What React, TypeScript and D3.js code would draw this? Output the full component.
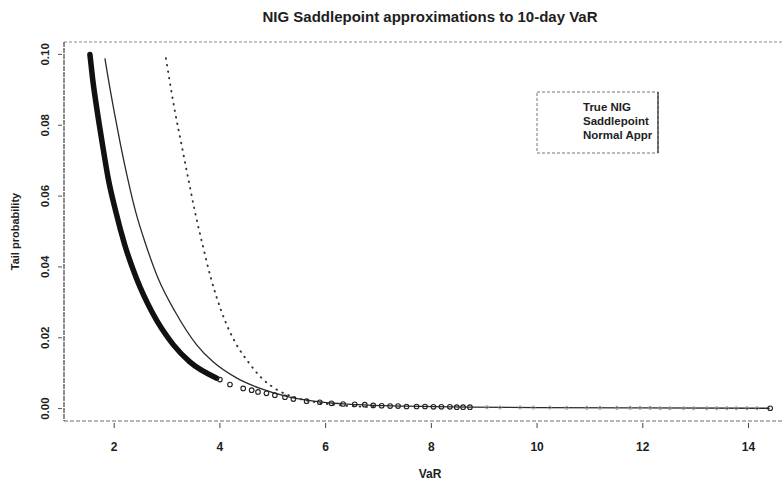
import React from "react";
import * as d3 from "d3";

const W = 784;
const H = 486;

const titleText = "NIG Saddlepoint approximations to 10-day VaR";
const xLabel = "VaR";
const yLabel = "Tail probability";
const xTicks = [2, 4, 6, 8, 10, 12, 14];
const yTicks = [0, 0.02, 0.04, 0.06, 0.08, 0.1];
const legendLabels = ["True NIG", "Saddlepoint", "Normal Appr"];

// True NIG: dense upper section (drawn heavy) and sparse tail points (circles)
const trueNigX = [1.54, 1.59, 1.68, 1.78, 1.886, 2.03, 2.2, 2.42, 2.71, 3.12, 3.43, 3.94];
const trueNigP = [0.1, 0.0933, 0.0838, 0.0744, 0.065, 0.0556, 0.0462, 0.0368, 0.0274, 0.018, 0.0132, 0.0086];
const tailX = [4.0, 4.19, 4.44, 4.6, 4.72, 4.88, 5.04, 5.23, 5.39, 5.64, 5.89, 6.11, 6.33, 6.55, 6.74, 6.9, 7.06, 7.22, 7.37, 7.53, 7.72, 7.88, 8.04, 8.19, 8.35, 8.48, 8.6, 8.73, 14.41];
const tailP = [0.0082, 0.0068, 0.0057, 0.0052, 0.0047, 0.0043, 0.0038, 0.0032, 0.0027, 0.0021, 0.0018, 0.0015, 0.0013, 0.0012, 0.0011, 0.0009, 0.0008, 0.0007, 0.0007, 0.0006, 0.0006, 0.0006, 0.0005, 0.0005, 0.0005, 0.0004, 0.0004, 0.0004, 0.0001];
const farTailX = [9.05, 9.3, 9.68, 9.93, 10.24, 10.56, 10.94, 11.19, 11.51, 11.76, 11.95, 12.14, 12.33, 12.51, 12.77, 12.96, 13.21, 13.4, 13.59, 13.77, 13.97, 14.16];
const farTailP = [0.0004, 0.0003, 0.0003, 0.0003, 0.0003, 0.0002, 0.0002, 0.0002, 0.0002, 0.0002, 0.0002, 0.0002, 0.0001, 0.0001, 0.0001, 0.0001, 0.0001, 0.0001, 0.0001, 0.0001, 0.0001, 0.0001];

// Saddlepoint approximation
const saddleX = [1.824, 1.886, 2.0, 2.121, 2.254, 2.405, 2.6, 2.83, 3.15, 3.56, 3.87, 4.32, 4.76, 5.3, 5.89, 6.6, 7.5, 8.7, 10.0, 12.0, 14.4];
const saddleP = [0.0989, 0.0933, 0.0838, 0.0744, 0.065, 0.0556, 0.0462, 0.0368, 0.0274, 0.018, 0.0132, 0.0086, 0.0057, 0.0033, 0.0019, 0.0011, 0.0007, 0.0004, 0.0003, 0.0002, 0.0001];

// Normal approximation
const normalX = [2.978, 3.04, 3.15, 3.275, 3.4, 3.527, 3.673, 3.83, 4.03, 4.316, 4.535, 4.79, 5.04, 5.45, 5.85, 6.3, 7.0];
const normalP = [0.0989, 0.0933, 0.0838, 0.0744, 0.065, 0.0556, 0.0462, 0.0368, 0.0274, 0.018, 0.0132, 0.0086, 0.0057, 0.003, 0.0017, 0.0009, 0.0004];

const plot = { left: 64, top: 42, bottom: 421 };
const font = "'Liberation Sans', Arial, sans-serif";
const ink = "#1e1e1e";

export default function App() {
  const x = d3.scaleLinear().domain([1.05, 15.05]).range([plot.left, 804]);
  const y = d3.scaleLinear().domain([-0.0035, 0.1035]).range([plot.bottom, plot.top]);
  const line = d3
    .line<[number, number]>()
    .x((d) => x(d[0]))
    .y((d) => y(d[1]))
    .curve(d3.curveMonotoneX);

  const zip = (a: number[], b: number[]) => a.map((v, i) => [v, b[i]] as [number, number]);
  const trueNig = zip(trueNigX, trueNigP);
  const tail = zip(tailX, tailP);
  const farTail = zip(farTailX, farTailP);
  const saddle = zip(saddleX, saddleP);
  const normal = zip(normalX, normalP);
  const fmt = d3.format(".2f");
  const cx = (plot.left + 804) / 2;

  return (
    <svg
      width={W}
      height={H}
      style={{ position: "absolute", left: 0, top: 0, background: "#fff" }}
      fontFamily={font}
    >
      <rect width={W} height={H} fill="#fff" />
      <text x={cx - 4} y={22} textAnchor="middle" fontSize={15} fontWeight="bold" fill={ink}>
        {titleText}
      </text>

      {/* plot frame */}
      <line x1={plot.left} x2={W} y1={plot.top} y2={plot.top} stroke="#8a8a8a" strokeWidth={1} strokeDasharray="3,2" />
      <line x1={plot.left} x2={W} y1={plot.bottom} y2={plot.bottom} stroke="#6a6a6a" strokeWidth={1} strokeDasharray="4,2" />
      <line x1={plot.left} x2={plot.left} y1={plot.top} y2={plot.bottom} stroke="#444" strokeWidth={1.2} strokeDasharray="5,1" />

      {/* x axis */}
      {xTicks.map((t) => (
        <g key={"x" + t}>
          <line x1={x(t)} x2={x(t)} y1={plot.bottom + 2} y2={plot.bottom + 7} stroke="#444" strokeWidth={1} />
          <text x={x(t)} y={451} textAnchor="middle" fontSize={12} fontWeight="bold" fill={ink}>
            {t}
          </text>
        </g>
      ))}
      <text x={cx - 4} y={478} textAnchor="middle" fontSize={12} fontWeight="bold" fill={ink}>
        {xLabel}
      </text>

      {/* y axis */}
      {yTicks.map((t) => (
        <g key={"y" + t}>
          <line x1={plot.left - 6} x2={plot.left - 2} y1={y(t)} y2={y(t)} stroke="#555" strokeWidth={1} />
          <text
            transform={`translate(49,${y(t)}) rotate(-90)`}
            textAnchor="middle"
            fontSize={11.5}
            fontWeight="bold"
            fill={ink}
          >
            {fmt(t)}
          </text>
        </g>
      ))}
      <text
        transform={`translate(19,${(plot.top + plot.bottom) / 2}) rotate(-90)`}
        textAnchor="middle"
        fontSize={11}
        fontWeight="bold"
        fill={ink}
      >
        {yLabel}
      </text>

      {/* normal approximation: dotted */}
      <path
        d={line(normal) || ""}
        fill="none"
        stroke="#333"
        strokeWidth={1.9}
        strokeLinecap="round"
        strokeDasharray="0.6,6"
      />

      {/* saddlepoint approximation: thin solid */}
      <path d={line(saddle) || ""} fill="none" stroke="#2a2a2a" strokeWidth={1.3} />

      {/* true NIG: heavy dense section, then circles */}
      <path d={line(trueNig) || ""} fill="none" stroke="#111" strokeWidth={5.5} strokeLinecap="round" />
      {tail.map((d, i) => (
        <circle key={"t" + i} cx={x(d[0])} cy={y(d[1])} r={2.3} fill="none" stroke="#222" strokeWidth={1.1} />
      ))}
      {farTail.map((d, i) => (
        <circle key={"f" + i} cx={x(d[0])} cy={y(d[1])} r={1.6} fill="none" stroke="#999" strokeWidth={0.9} />
      ))}

      {/* legend */}
      <rect x={537} y={92} width={121} height={61} fill="#fff" stroke="#777" strokeWidth={1} strokeDasharray="3,2" />
      <line x1={658} x2={658} y1={92} y2={153} stroke="#333" strokeWidth={1.3} />
      {legendLabels.map((l, i) => (
        <text key={l} x={583} y={111 + i * 14} fontSize={11.5} fontWeight="bold" fill={ink}>
          {l}
        </text>
      ))}
    </svg>
  );
}
